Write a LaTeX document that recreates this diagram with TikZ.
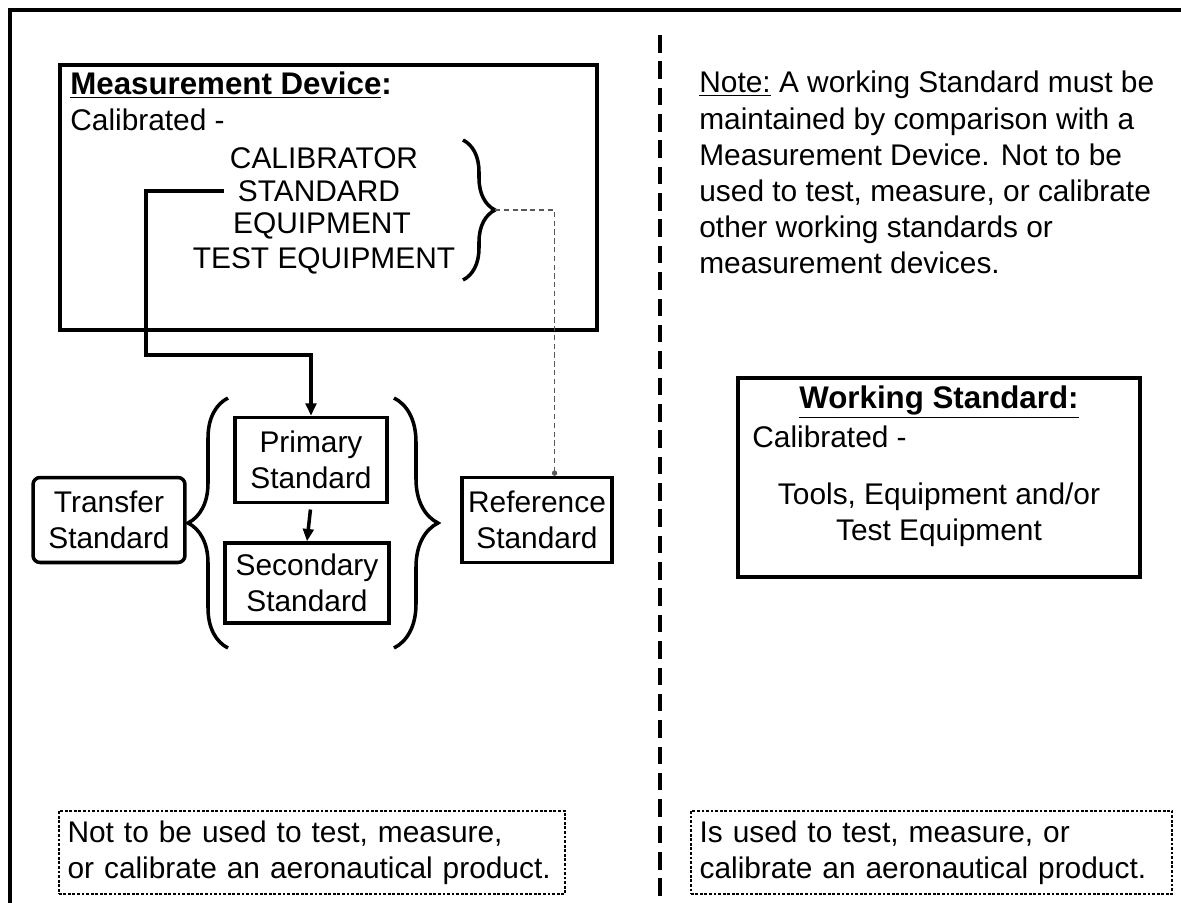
\documentclass[tikz,border=0pt]{standalone}
\usepackage{fontspec}
\setmainfont{Liberation Sans}
\usetikzlibrary{arrows.meta,decorations.pathreplacing}

\tikzset{
  every node/.style={font=\fontsize{17}{20.5}\selectfont, inner sep=0pt},
  heavy/.style={line width=2pt},
  headtext/.style={font=\fontsize{17.8}{20.5}\selectfont\bfseries},
  stdbox/.style={draw, heavy, align=center, minimum width=3.04cm, minimum height=1.7cm},
  curly/.style={heavy, decorate, decoration={brace, amplitude=#1}},
  divider/.style={line width=1.8pt, dash pattern=on 10pt off 5pt},
  notebox/.style={draw, line width=0.9pt, dash pattern=on 1.6pt off 1pt,
    anchor=north west, align=left, inner xsep=5pt, minimum height=1.66cm},
  thinlink/.style={line width=0.6pt, gray!70!black, dash pattern=on 3pt off 2pt},
  arr/.style={-{Triangle[length=7pt,width=6pt]}}
}

\begin{document}
\begin{tikzpicture}[x=0.02cm, y=-0.02cm]
  \useasboundingbox (0,0) rectangle (1181,903);
  \clip (0,0) rectangle (1181,903);
  \draw[line width=2.2pt] (10,950) -- (10,10) -- (1300,10);

  % measurement device
  \draw[heavy] (60,65) rectangle (597,330);
  \node[anchor=west, headtext] (mdhead) at (70,85) {\underline{Measurement Device}:};
  \node[anchor=west] (mdcal) at (70,120) {Calibrated -};
  \node (cal) at (324,158) {CALIBRATOR};
  \node (std) at (319,191) {STANDARD};
  \node (eqp) at (322,226) {EQUIPMENT};
  \node (teq) at (324,261) {TEST EQUIPMENT};
  \draw[curly=0.64cm] (463,140) -- (463,280);
  \coordinate (mdtip) at (495,210);

  % standards
  \node[stdbox] (prim) at (311,460) {Primary\\Standard};
  \node[stdbox, minimum width=3.28cm, minimum height=1.6cm] (sec) at (307,583) {Secondary\\Standard};
  \node[stdbox, rounded corners=4pt] (trans) at (109,520) {Transfer\\Standard};
  \node[stdbox, minimum width=3cm] (ref) at (537,520) {Reference\\Standard};
  \draw[curly=0.8cm] (228,648) -- (228,398);
  \draw[curly=0.88cm] (394,398) -- (394,648);

  \draw[heavy, arr] ([xshift=-8pt]std.west) -| (146,355) -| (prim.north);
  \draw[heavy, arr, shorten <=3pt] (prim.south) -- (sec.north);
  \draw[thinlink, -{Circle[length=3pt]}] (mdtip) -| ([xshift=10pt]ref.north);

  \draw[divider] (660,35) -- (660,903);

  % working standard
  \node[anchor=north west, align=left] (note) at (699,71) {\underline{Note:} A working Standard must be\\
    maintained by comparison with a\\
    Measurement Device. Not to be\\
    used to test, measure, or calibrate\\
    other working standards or\\
    measurement devices.};
  \draw[heavy] (738,378) rectangle (1140,577);
  \node[headtext] (wshead) at (939,402) {\underline{Working Standard:}};
  \node[anchor=west] (wscal) at (752,437) {Calibrated -};
  \node[align=center] (wstools) at (939,515) {Tools, Equipment and/or\\Test Equipment};

  % usage notes
  \node[notebox, text width=9.78cm] (notuse) at (58,810) {Not to be used to test, measure,\\or calibrate an aeronautical product.};
  \node[notebox, text width=9.28cm] (isuse) at (690,810) {Is used to test, measure, or\\calibrate an aeronautical product.};
\end{tikzpicture}
\end{document}
